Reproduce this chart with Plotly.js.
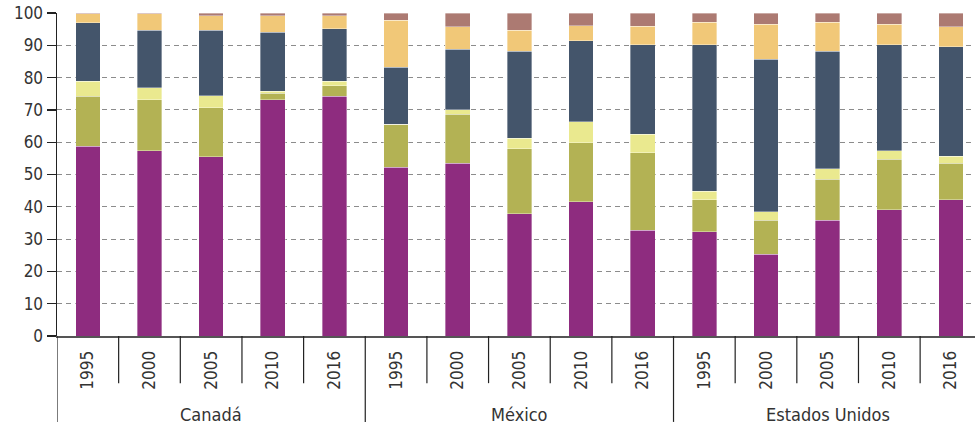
<!DOCTYPE html>
<html>
<head>
<meta charset="utf-8">
<script src="https://cdn.plot.ly/plotly-3.0.1.min.js"></script>
<style>html,body{margin:0;padding:0;background:#fff;}#chart{width:975px;height:426px;}</style>
</head>
<body>
<div id="chart"></div>
<script>
const groups = ["Canadá", "México", "Estados Unidos"];
const years = ["1995", "2000", "2005", "2010", "2016"];

// Values per bar: Canadá 1995..2016, México 1995..2016, Estados Unidos 1995..2016
const serie1 = [58.7, 57.3, 55.5, 73.1, 74.3, 52.3, 53.5, 37.8, 41.6, 32.7, 32.2, 25.3, 35.9, 39.1, 42.2];
const serie2 = [15.6, 15.8, 15.1, 2.0, 3.2, 13.3, 15.2, 20.1, 18.3, 24.0, 10.0, 10.5, 12.7, 15.7, 11.3];
const serie3 = [4.5, 3.8, 3.8, 0.6, 1.3, 0.0, 1.4, 3.4, 6.4, 5.8, 2.6, 2.7, 3.2, 2.5, 2.1];
const serie4 = [18.2, 17.7, 20.2, 18.3, 16.3, 17.6, 18.7, 26.9, 25.1, 27.7, 45.4, 47.2, 36.4, 32.9, 33.9];
const serie5 = [2.7, 5.1, 4.6, 5.2, 4.1, 14.5, 7.0, 6.4, 4.6, 5.7, 6.9, 10.8, 8.9, 6.3, 6.3];
const serie6 = [0.3, 0.3, 0.8, 0.8, 0.8, 2.3, 4.2, 5.4, 4.0, 4.1, 2.9, 3.5, 2.9, 3.5, 4.2];

const series = [serie1, serie2, serie3, serie4, serie5, serie6];
const colors = ["#8E2C7F", "#B3B254", "#EAE98F", "#44556B", "#F1C878", "#AC7A72"];

const xIdx = [];
const tickText = [];
groups.forEach(function(g, gi){ years.forEach(function(y, yi){ xIdx.push(gi*years.length + yi); tickText.push(y); }); });

const FONT = "'DejaVu Sans Condensed', 'Roboto', sans-serif";

const traces = series.map(function(vals, i){
  return {
    type: "bar", x: xIdx, y: vals, name: "Serie " + (i+1),
    marker: {color: colors[i], line: {color: "rgba(255,255,255,0.45)", width: 0.8}},
    hoverinfo: "y", showlegend: false
  };
});

const shapes = [];
const annotations = [];
const n = xIdx.length;
for (let k = 1; k < n; k++) {
  const isGroup = (k % years.length === 0);
  shapes.push({type: "line", xref: "x", yref: "paper", x0: k - 0.5, x1: k - 0.5,
    y0: 0, y1: isGroup ? -0.266 : -0.146, line: {color: "#222", width: 1.2}});
}
shapes.push({type: "line", xref: "x", yref: "paper", x0: -0.5, x1: -0.5, y0: 0, y1: -0.266, line: {color: "#222", width: 1.2}});
groups.forEach(function(g, gi){
  annotations.push({text: g, xref: "x", yref: "paper", x: gi*years.length + (years.length-1)/2, y: -0.242,
    xanchor: "center", yanchor: "middle", showarrow: false, font: {family: FONT, size: 18, color: "#333"}});
});

const layout = {
  width: 975, height: 426,
  margin: {l: 57, r: 0, t: 13, b: 90},
  paper_bgcolor: "#fff", plot_bgcolor: "#fff",
  barmode: "stack", bargap: 0.6,
  font: {family: FONT, color: "#333"},
  xaxis: {range: [-0.5, 14.39], tickvals: xIdx, ticktext: tickText, tickangle: -90,
    tickfont: {family: FONT, size: 17, color: "#333"}, ticks: "", showgrid: false, zeroline: false,
    showline: true, linecolor: "#555", linewidth: 2, ticklabelstandoff: 6, fixedrange: true},
  yaxis: {range: [0, 100], dtick: 10, tick0: 0, ticks: "outside", ticklen: 9, tickcolor: "#222", tickwidth: 1.2,
    showline: true, linecolor: "#222", linewidth: 1.5, showgrid: true, gridcolor: "#8c8c8c", gridwidth: 1,
    griddash: "5px,4px", zeroline: false, tickfont: {family: FONT, size: 17, color: "#333"}, fixedrange: true},
  shapes: shapes, annotations: annotations
};

Plotly.newPlot("chart", traces, layout, {displayModeBar: false, staticPlot: true});
</script>
</body>
</html>
